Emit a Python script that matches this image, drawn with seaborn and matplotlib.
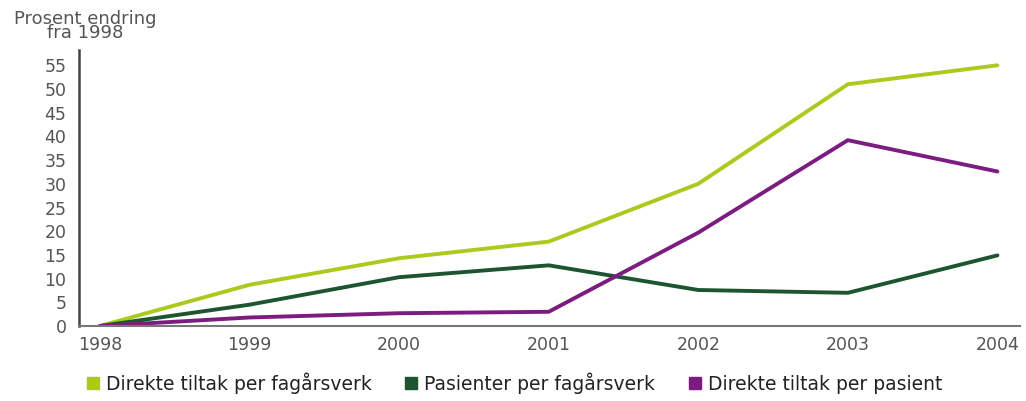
import matplotlib
matplotlib.use("Agg")
import matplotlib.pyplot as plt
from matplotlib.lines import Line2D
import seaborn as sns
import pandas as pd

years = [1998, 1999, 2000, 2001, 2002, 2003, 2004]
direkte_per_fagarsverk = [0, 8.7, 14.3, 17.8, 30.0, 51.0, 55.0]
pasienter_per_fagarsverk = [0, 4.5, 10.3, 12.8, 7.6, 7.0, 14.9]
direkte_per_pasient = [0, 1.8, 2.7, 3.0, 19.7, 39.2, 32.6]

series_names = [
    "Direkte tiltak per fagårsverk",
    "Pasienter per fagårsverk",
    "Direkte tiltak per pasient",
]
colors = ["#aacb1e", "#1d5530", "#7d1c80"]
yticks = list(range(0, 60, 5))

df = pd.DataFrame({
    "year": years * 3,
    "value": direkte_per_fagarsverk + pasienter_per_fagarsverk + direkte_per_pasient,
    "series": [series_names[0]] * 7 + [series_names[1]] * 7 + [series_names[2]] * 7,
})

sns.set_style("white")
plt.rcParams["font.family"] = ["DejaVu Sans"]

fig = plt.figure(figsize=(10.26, 4.01), dpi=100)
ax = fig.add_axes([0.077, 0.187, 0.917, 0.688])

sns.lineplot(data=df, x="year", y="value", hue="series", palette=colors,
             hue_order=series_names, linewidth=2.8, ax=ax, legend=False)

ax.set_xlim(1997.86, 2004.15)
ax.set_ylim(0, 58.2)
ax.set_xticks(years)
ax.set_xticklabels([str(y) for y in years])
ax.set_yticks(yticks)
ax.set_xlabel("")
ax.set_ylabel("")
ax.tick_params(axis="both", length=0, labelsize=12.5, colors="#555555")
ax.tick_params(axis="y", pad=9)
ax.tick_params(axis="x", pad=7)

for side in ["top", "right"]:
    ax.spines[side].set_visible(False)
ax.spines["left"].set_color("#444444")
ax.spines["left"].set_linewidth(1.8)
ax.spines["bottom"].set_color("#777777")
ax.spines["bottom"].set_linewidth(1.5)

fig.text(0.083, 0.935, "Prosent endring\nfra 1998", ha="center", va="center",
         fontsize=13, color="#555555", linespacing=0.75)

handles = [Line2D([0], [0], marker="s", linestyle="", markersize=8,
                  markerfacecolor=c, markeredgecolor=c) for c in colors]
fig.legend(handles, series_names, loc="center", bbox_to_anchor=(0.5, 0.045),
           ncol=3, frameon=False, fontsize=13.5, handletextpad=0.2,
           columnspacing=1.6, handlelength=1.0, labelcolor="#222222")

fig.savefig("out.png", dpi=100)
